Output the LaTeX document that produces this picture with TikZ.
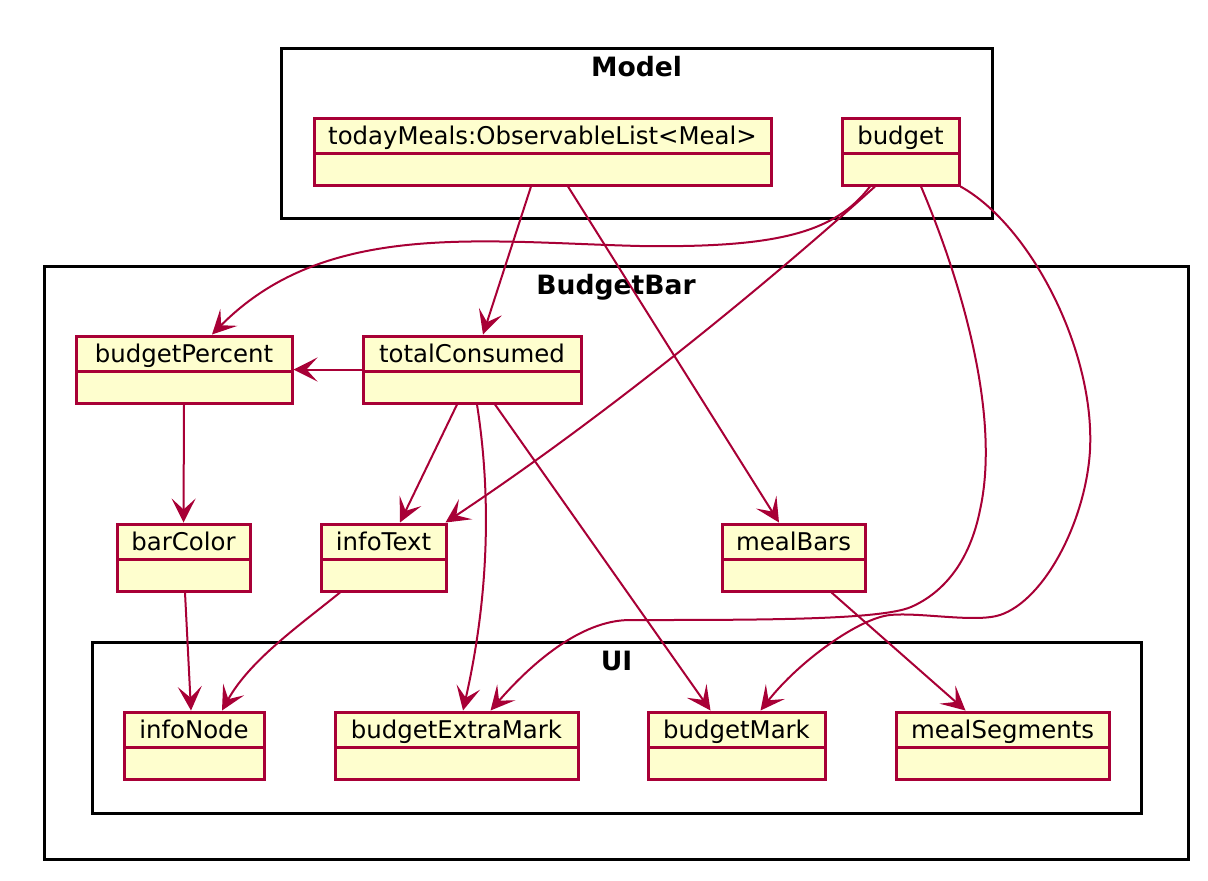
\documentclass[tikz,border=0pt]{standalone}
\usepackage{fontspec}
\setmainfont{DejaVu Sans}
\usepackage{xcolor}
\definecolor{umlred}{HTML}{A80036}
\definecolor{umlyellow}{HTML}{FEFECE}
\usepackage{tikz}
\usetikzlibrary{arrows.meta,calc}
\tikzstyle{cls} = [rectangle, draw=umlred, fill=umlyellow, line width=1.5pt, inner sep=0pt, minimum height=33.5pt, text height=9pt, text depth=16.5pt, font=\fontsize{12.2}{14}\selectfont, path picture={\draw[umlred, line width=1.5pt] ([yshift=-0.75pt]path picture bounding box.west) -- ([yshift=-0.75pt]path picture bounding box.east);}]
\tikzstyle{pkg} = [rectangle, draw=black, line width=1.5pt, inner sep=0pt]
\tikzstyle{pkgtitle} = [anchor=base, inner sep=0pt, font=\fontsize{13.3}{16}\selectfont\bfseries]
\tikzstyle{rel} = [draw=umlred, line width=1pt, -{Stealth[length=12pt, width=12pt, inset=5.5pt]}]

\begin{document}
\begin{tikzpicture}[x=0.5pt, y=-0.5pt]

    \useasboundingbox (0,0) rectangle (1208,880);

    \node (modelFrame) [pkg, minimum width=355.5pt, minimum height=85pt] at (636.5,133) {};
    \node (modelTitle) [pkgtitle] at ([yshift=-15pt]modelFrame.north) {Model};

    \node (budgetBarFrame) [pkg, minimum width=572pt, minimum height=296.5pt] at (616,562.5) {};
    \node (budgetBarTitle) [pkgtitle] at ([yshift=-15pt]budgetBarFrame.north) {BudgetBar};

    \node (uiFrame) [pkg, minimum width=524.5pt, minimum height=85.5pt] at (616.5,727.5) {};
    \node (uiTitle) [pkgtitle] at ([yshift=-15pt]uiFrame.north) {UI};

    \node (todayMeals) [cls, minimum width=228.5pt] at (542.5,151.5) {todayMeals:ObservableList<Meal>};
    \node (budget) [cls, minimum width=58.5pt] at (900.5,151.5) {budget};

    \node (budgetPercent) [cls, minimum width=108pt] at (184,369.5) {budgetPercent};
    \node (totalConsumed) [cls, minimum width=109pt] at (472,369.5) {totalConsumed};
    \node (barColor) [cls, minimum width=66.5pt] at (183.5,557.5) {barColor};
    \node (infoText) [cls, minimum width=62.5pt] at (383.5,557.5) {infoText};
    \node (mealBars) [cls, minimum width=71.5pt] at (793.5,557.5) {mealBars};

    \node (infoNode) [cls, minimum width=70pt] at (194,745.5) {infoNode};
    \node (budgetExtraMark) [cls, minimum width=121.5pt] at (456.5,745.5) {budgetExtraMark};
    \node (budgetMark) [cls, minimum width=88.5pt] at (736.5,745.5) {budgetMark};
    \node (mealSegments) [cls, minimum width=106.5pt] at (1002.5,745.5) {mealSegments};

    \draw[rel] ($(todayMeals.south)+(-11.5,0)$) -- ($(totalConsumed.north)+(11,0)$);
    \draw[rel] ($(todayMeals.south)+(25.5,0)$) -- ($(mealBars.north)+(-14.5,0)$);

    \draw[rel] ($(budget.south)+(-30.5,0)$) .. controls (835,232) and (780,248) .. (640,246)
        .. controls (480,242) and (325,220) .. ($(budgetPercent.north)+(28,0)$);
    \draw[rel] ($(budget.south)+(-25.5,0)$) .. controls (760,290) and (600,420) .. ($(infoText.north east)+(-2,0)$);
    \draw[rel] ($(budget.south)+(20.5,0)$) .. controls (965,290) and (1000,420) .. (980,510)
        .. controls (970,560) and (945,592) .. (911,607)
        .. controls (880,620) and (760,620) .. (630,620)
        .. controls (580,620) and (530,665) .. ($(budgetExtraMark.north)+(34,0)$);
    \draw[rel] (budget.south east) .. controls (1030,225) and (1095,350) .. (1090,450)
        .. controls (1086,520) and (1045,600) .. (1000,615)
        .. controls (975,623) and (920,612) .. (890,615)
        .. controls (860,618) and (800,660) .. ($(budgetMark.north)+(24,0)$);

    \draw[rel] (totalConsumed.west) -- (budgetPercent.east);
    \draw[rel] ($(totalConsumed.south)+(-15,0)$) -- ($(infoText.north)+(16.5,0)$);
    \draw[rel] ($(totalConsumed.south)+(5,0)$) .. controls (492,500) and (488,600) .. ($(budgetExtraMark.north)+(6.5,0)$);
    \draw[rel] ($(totalConsumed.south)+(23,0)$) -- ($(budgetMark.north)+(-26,0)$);

    \draw[rel] (budgetPercent.south) -- (barColor.north);
    \draw[rel] ($(barColor.south)+(1.5,0)$) -- ($(infoNode.north)+(-3,0)$);
    \draw[rel] ($(infoText.south)+(-43.5,0)$) .. controls (300,625) and (250,660) .. ($(infoNode.north)+(28,0)$);
    \draw[rel] ($(mealBars.south)+(38,0)$) -- ($(mealSegments.north)+(-37,0)$);

\end{tikzpicture}
\end{document}
